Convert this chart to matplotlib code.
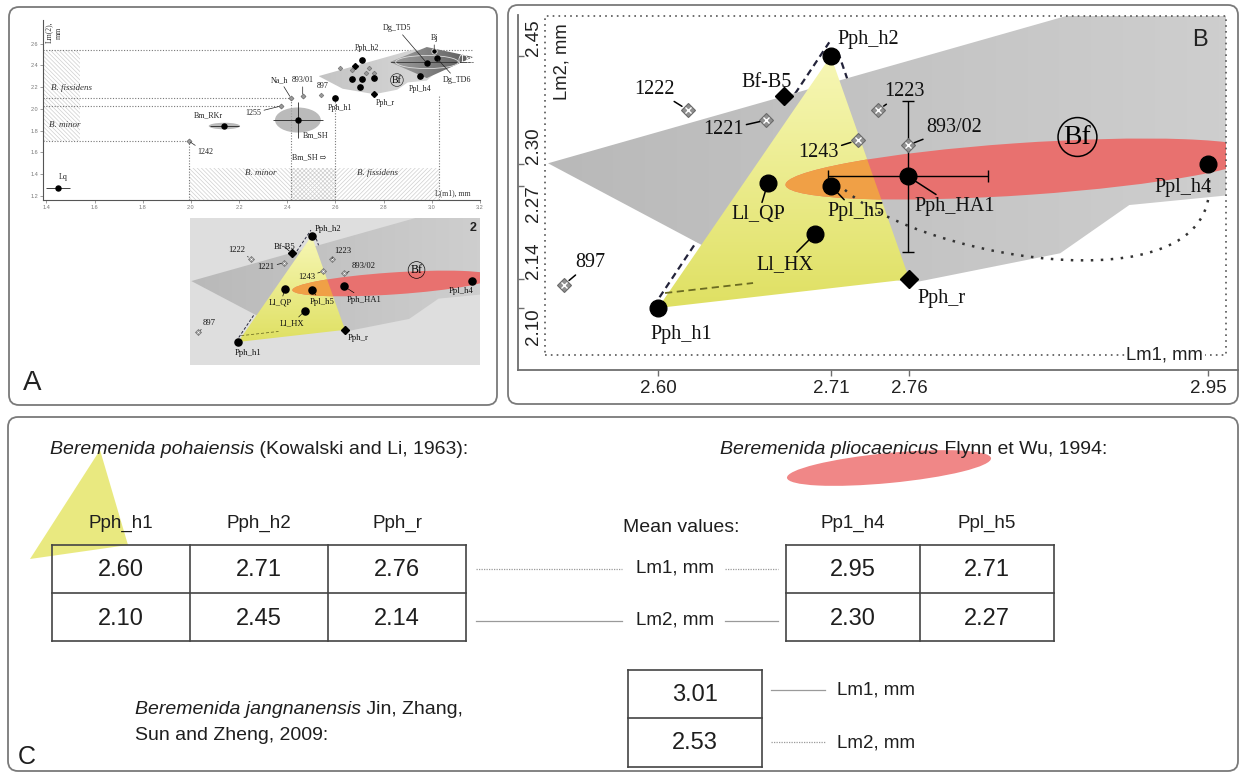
import numpy as np
import matplotlib
matplotlib.use('Agg')
import matplotlib.pyplot as plt
from matplotlib.patches import Polygon, Ellipse, Rectangle, FancyBboxPatch, PathPatch
from matplotlib.path import Path
from matplotlib.colors import to_rgb

W, H = 1241, 775
SERIF = ['Liberation Serif', 'DejaVu Serif']
SANS = ['Liberation Sans', 'DejaVu Sans']
plt.rcParams['font.family'] = SANS
plt.rcParams['hatch.linewidth'] = 0.5

# ------------------------------------------------------------------ data
# Beremenida pohaiensis (triangle vertices), Lm1 / Lm2 in mm
pph_names = ['Pph_h1', 'Pph_h2', 'Pph_r']
pph_lm1 = [2.60, 2.71, 2.76]
pph_lm2 = [2.10, 2.45, 2.14]
pph_markers = ['o', 'o', 'D']

# Beremenida pliocaenicus
ppl_names = ['Ppl_h4', 'Ppl_h5']
ppl_table_headers = ['Pp1_h4', 'Ppl_h5']
ppl_lm1 = [2.95, 2.71]
ppl_lm2 = [2.30, 2.27]

# Beremenida jangnanensis (mean values)
jang_lm1 = [3.01]
jang_lm2 = [2.53]

# other black-dot samples
dot_names = ['Ll_QP', 'Ll_HX', 'Pph_HA1']
dot_lm1 = [2.670, 2.700, 2.759]
dot_lm2 = [2.274, 2.203, 2.283]
ha1_xerr = 0.051
ha1_yerr = 0.105

# Bf-B5 (black diamond)
bfb5_lm1 = [2.680]
bfb5_lm2 = [2.394]

# numbered specimens (grey)
spec_names = ['1222', '1221', '1243', '1223', '893/02', '897']
spec_lm1 = [2.619, 2.669, 2.727, 2.740, 2.759, 2.540]
spec_lm2 = [2.375, 2.361, 2.333, 2.375, 2.326, 2.132]

# B. fissidens (Bf) field outline
bf_lm1 = [2.530, 2.925, 3.100, 2.979, 2.900, 2.856, 2.762, 2.630]
bf_lm2 = [2.301, 2.546, 2.500, 2.260, 2.243, 2.176, 2.135, 2.185]
bf_label_pos = (2.867, 2.3375)

# pliocaenicus range ellipse
ppl_ell_center = (2.832, 2.293)
ppl_ell_width = 0.305
ppl_ell_height = 0.072
ppl_ell_angle = 8.7

# guide lines around the pohaiensis triangle
dash_left_lm1 = [2.601, 2.709]
dash_left_lm2 = [2.115, 2.469]
dash_right_lm1 = [2.7146, 2.7636]
dash_right_lm2 = [2.4556, 2.1436]
dash_base_lm1 = [2.6045, 2.6605]
dash_base_lm2 = [2.1208, 2.1347]
# dotted arc Ppl_h5 -> Ppl_h4 (Bezier control points)
arc_lm1 = [2.719, 2.770, 2.966, 2.950]
arc_lm2 = [2.264, 2.165, 2.095, 2.290]

# panel B axis ticks
b_xticks = [2.60, 2.71, 2.76, 2.95]
b_yticks = [2.10, 2.14, 2.27, 2.30, 2.45]
b_ytick_va = ['top', 'bottom', 'top', 'bottom', 'bottom']

# panel A overview: additional samples
a_names = ['Lq', 'Bm_RKr', '1242', 'Bm_SH', '1255', 'Na_h', '893/01']
a_lm1 = [1.448, 2.139, 1.991, 2.444, 2.374, 2.415, 2.464]
a_lm2 = [1.274, 1.843, 1.705, 1.898, 2.027, 2.100, 2.118]
a_black = ['Lq', 'Bm_RKr', 'Bm_SH']
a_ellipses = {'Bm_SH': (0.19, 0.23), 'Bm_RKr': (0.13, 0.06)}
a_errs = {'Lq': (0.05, 0.02), 'Bm_SH': (0.103, 0.165), 'Bm_RKr': (0.06, 0.0)}
dg_names = ['Dg_TD5', 'Dg_TD6']
dg_lm1 = [2.979, 3.020]
dg_lm2 = [2.421, 2.467]
dg_field_lm1 = [2.826, 2.979, 3.172, 2.979]
dg_field_lm2 = [2.430, 2.568, 2.476, 2.283]
dg_label_pos = (3.143, 2.449)
abf_label_pos = (2.855, 2.265)
a_hguides = [(2.54, 1.386, 3.17), (2.10, 1.386, 2.415), (2.027, 1.386, 2.374), (1.705, 1.386, 1.991)]
a_vguides = [(1.991, 1.164, 1.705), (2.415, 1.164, 2.10), (2.60, 1.164, 2.10), (3.03, 1.164, 2.13)]
a_zones = [(1.386, 1.538, 1.705, 2.54, '\\'), (1.991, 2.415, 1.164, 1.458, '\\'),
           (2.415, 2.60, 1.164, 1.458, 'x'), (2.60, 3.03, 1.164, 1.458, '/')]
a_xticks = [1.4, 1.6, 1.8, 2.0, 2.2, 2.4, 2.6, 2.8, 3.0, 3.2]
a_yticks = [1.2, 1.4, 1.6, 1.8, 2.0, 2.2, 2.4, 2.6]

pos = {}
for names, xs, ys in [(pph_names, pph_lm1, pph_lm2), (ppl_names, ppl_lm1, ppl_lm2),
                      (dot_names, dot_lm1, dot_lm2), (['Bf-B5'], bfb5_lm1, bfb5_lm2),
                      (spec_names, spec_lm1, spec_lm2), (a_names, a_lm1, a_lm2),
                      (dg_names, dg_lm1, dg_lm2), (['Bj'], jang_lm1, jang_lm2)]:
    for n, x, y in zip(names, xs, ys):
        pos[n] = (x, y)

# label offsets (points) for panel B / inset
field_labels = {
    'Pph_h1': (17, -19, False), 'Pph_h2': (27, 12, False), 'Pph_r': (23, -14, False),
    'Bf-B5': (-12, 10, True), '1222': (-24, 15, True), '1221': (-31, -7, True),
    '1243': (-28, -9, True), '1223': (19, 13, True), '893/02': (33, 13, True),
    '897': (19, 16, True), 'Ll_QP': (-7, -23, True), 'Ppl_h5': (18, -19, True),
    'Ll_HX': (-22, -22, True), 'Pph_HA1': (34, -22, True), 'Ppl_h4': (-18, -17, False)}

a_labels = {
    'Lq': (3.6, 7.9, False), 'Bm_RKr': (-11.5, 7.9, False), '1242': (12, -8, True),
    'Bm_SH': (13, -11, False), '1255': (-20, -5, True), 'Na_h': (-8, 13, True),
    '893/01': (0, 11.5, True), '897': (1, 6.5, False), 'Pph_h1': (3.6, -7.2, False),
    'Pph_h2': (3.6, 8.6, False), 'Pph_r': (8, -6.5, False), 'Ppl_h4': (0, -9.4, False),
    'Bj': (0, 9.4, True), 'Dg_TD5': (-21.6, 25.2, True), 'Dg_TD6': (14.4, -15.8, True)}


def gradient_fill(ax, xs, ys, c0, c1, direction, zorder):
    poly = Polygon(np.column_stack([xs, ys]), closed=True, fc='none', ec='none', zorder=zorder)
    ax.add_patch(poly)
    t = np.linspace(0, 1, 256)
    a = np.array(to_rgb(c0)); b = np.array(to_rgb(c1))
    cols = a[None, :] * (1 - t[:, None]) + b[None, :] * t[:, None]
    img = cols[None, :, :] if direction == 'x' else cols[:, None, :]
    ext = (min(xs), max(xs), min(ys), max(ys))
    im = ax.imshow(img, extent=ext, origin='lower', aspect='auto',
                   interpolation='bilinear', zorder=zorder)
    im.set_clip_path(poly)
    return poly


def draw_field(ax, s, detail):
    ax.plot(dash_left_lm1, dash_left_lm2, color='#23233a', lw=1.6 * s, ls=(0, (3, 2)), zorder=1.5)
    ax.plot(dash_right_lm1, dash_right_lm2, color='#23233a', lw=1.6 * s, ls=(0, (3, 2)), zorder=1.5)
    gradient_fill(ax, bf_lm1, bf_lm2, '#b9b9b9', '#d5d5d5', 'x', 2)
    tri = gradient_fill(ax, pph_lm1, pph_lm2, '#dfe062', '#f7f7b6', 'y', 3)
    ell = Ellipse(ppl_ell_center, ppl_ell_width, ppl_ell_height, angle=ppl_ell_angle,
                  fc='#e8716f', ec='none', zorder=4)
    ax.add_patch(ell)
    ell2 = Ellipse(ppl_ell_center, ppl_ell_width, ppl_ell_height, angle=ppl_ell_angle,
                   fc='#f0a046', ec='none', zorder=4.5)
    ax.add_patch(ell2)
    ell2.set_clip_path(tri)
    ax.plot(dash_base_lm1, dash_base_lm2, color='#6b6b22', lw=1.3 * s, ls=(0, (4, 2.5)), zorder=5)
    if detail:
        path = Path(list(zip(arc_lm1, arc_lm2)),
                    [Path.MOVETO, Path.CURVE4, Path.CURVE4, Path.CURVE4])
        ax.add_patch(PathPatch(path, fc='none', ec='#333333', lw=1.8 * s, ls=(0, (1, 3)), zorder=5))
        x, y = pos['Pph_HA1']
        ax.errorbar([x], [y], xerr=[ha1_xerr], yerr=[ha1_yerr], fmt='none', ecolor='k',
                    elinewidth=1.0 * s, capsize=4 * s, capthick=1.0 * s, zorder=5)
    # markers
    for n, m in zip(pph_names, pph_markers):
        x, y = pos[n]
        ax.plot([x], [y], marker=m, ms=(12 if m == 'o' else 9.5) * s, color='k', ls='none', zorder=7)
    ax.plot(ppl_lm1, ppl_lm2, 'o', ms=12 * s, color='k', zorder=7)
    ax.plot(dot_lm1, dot_lm2, 'o', ms=12 * s, color='k', zorder=7)
    ax.plot(bfb5_lm1, bfb5_lm2, 'D', ms=9.5 * s, color='k', zorder=7)
    ax.plot(spec_lm1, spec_lm2, 'D', ms=7.5 * s, mfc='#909090', mec='#6a6a6a', mew=0.8 * s, zorder=7)
    ax.plot(spec_lm1, spec_lm2, 'x', ms=4 * s, mec='white', mew=1.0 * s, zorder=7.2)
    for n, (dx, dy, lead) in field_labels.items():
        x, y = pos[n]
        kw = {}
        if lead:
            kw['arrowprops'] = dict(arrowstyle='-', color='k', lw=1.1 * s, shrinkA=0, shrinkB=5 * s)
        ax.annotate(n, (x, y), xytext=(dx * s, dy * s), textcoords='offset points', ha='center',
                    va='center', fontsize=14.5 * s, family=SERIF, color='#111111', zorder=8, **kw)
    ax.text(*bf_label_pos, 'Bf', fontsize=20 * s, family=SERIF, ha='center', va='center',
            bbox=dict(boxstyle='circle,pad=0.2', fc='none', ec='k', lw=1.1 * s), zorder=8)


fig = plt.figure(figsize=(W / 100, H / 100), dpi=100)
bg = fig.add_axes([0, 0, 1, 1])
bg.set_xlim(0, W); bg.set_ylim(H, 0); bg.axis('off')

# panel frames
for (x0, y0, x1, y1) in [(9, 7, 497, 405), (508, 5, 1238, 404), (8, 417, 1238, 771)]:
    bg.add_patch(FancyBboxPatch((x0, y0), x1 - x0, y1 - y0,
                                boxstyle='round,pad=0,rounding_size=10',
                                fc='none', ec='#7a7a7a', lw=1.3))

# ------------------------------------------------------------------ panel B
axB = fig.add_axes([545 / W, 1 - 355 / H, 681 / W, 339 / H])
axB.set_facecolor('none')
draw_field(axB, 1.0, True)
axB.set_xlim(2.52807, 2.96155)
axB.set_ylim(2.03472, 2.50556)
for sp in ['top', 'right']:
    axB.spines[sp].set_visible(False)
axB.spines['left'].set_position(('outward', 27 * 0.72))
axB.spines['bottom'].set_position(('outward', 15 * 0.72))
axB.spines['left'].set_bounds(2.0139, 2.507)
axB.spines['bottom'].set_bounds(2.5109, 2.969)
for sp in ['left', 'bottom']:
    axB.spines[sp].set_color('#6e6e6e'); axB.spines[sp].set_linewidth(1.3)
axB.set_xticks(b_xticks)
axB.set_xticklabels([f'{v:.2f}' for v in b_xticks])
axB.set_yticks(b_yticks)
axB.tick_params(axis='x', direction='out', length=4, width=1, colors='#6e6e6e',
                labelcolor='#222222', labelsize=13.5, pad=3)
axB.tick_params(axis='y', direction='in', length=4, width=1, colors='#6e6e6e', labelleft=False)
for v, va in zip(b_yticks, b_ytick_va):
    axB.text(-0.0176, v, f'{v:.2f}', transform=axB.get_yaxis_transform(), rotation=90,
             ha='center', va=va, fontsize=13.5, color='#222222')
axB.add_patch(Rectangle((0, 0), 1, 1, transform=axB.transAxes, fill=False, ec='#555555',
                        lw=1.2, ls=(0, (1, 2.5)), clip_on=False, zorder=9))
axB.text(0.025, 0.864, 'Lm2, mm', rotation=90, transform=axB.transAxes, fontsize=13.3,
         ha='center', va='center', color='#222222')
axB.text(0.910, 0.0, 'Lm1, mm', transform=axB.transAxes, fontsize=13.3, ha='center',
         va='center', color='#222222', bbox=dict(fc='white', ec='none', pad=1), zorder=10)
axB.text(0.962, 0.929, 'B', transform=axB.transAxes, fontsize=17, ha='center', va='center',
         color='#222222', zorder=10)

# ------------------------------------------------------------------ panel A (overview)
axA = fig.add_axes([43 / W, 1 - 200 / H, 437 / W, 180 / H])
axA.set_facecolor('none')
for x0, x1, y0, y1, h in a_zones:
    axA.add_patch(Rectangle((x0, y0), x1 - x0, y1 - y0, fill=False, hatch=h * 8,
                            ec='#cfcfcf', lw=0, zorder=1))
for y, x0, x1 in a_hguides:
    axA.plot([x0, x1], [y, y], color='#777777', lw=0.8, ls=(0, (1, 1.5)), zorder=1.5)
for x, y0, y1 in a_vguides:
    axA.plot([x, x], [y0, y1], color='#777777', lw=0.8, ls=(0, (1, 1.5)), zorder=1.5)
gradient_fill(axA, bf_lm1, bf_lm2, '#c4c4c4', '#dcdcdc', 'x', 2)
gradient_fill(axA, dg_field_lm1, dg_field_lm2, '#a0a0a0', '#5a5a5a', 'x', 2.5)
axA.plot([2.83, 3.17], [2.43, 2.43], color='#333333', lw=0.6, zorder=3)
axA.add_patch(Ellipse((2.98, 2.43), 0.26, 0.12, fc='none', ec='#dddddd', lw=0.6, zorder=3))
for n, (w, h) in a_ellipses.items():
    axA.add_patch(Ellipse(pos[n], w, h, fc='#a9a9a9', ec='none', alpha=0.8, zorder=3))
for n, (xe, ye) in a_errs.items():
    x, y = pos[n]
    axA.errorbar([x], [y], xerr=[xe], yerr=[ye] if ye else None, fmt='none', ecolor='#222222',
                 elinewidth=0.6, capsize=0, zorder=4)
axA.plot(spec_lm1, spec_lm2, 'D', ms=2.4, mfc='#9a9a9a', mec='#666666', mew=0.4, zorder=5)
grey_a = [n for n in a_names if n not in a_black]
axA.plot([pos[n][0] for n in grey_a], [pos[n][1] for n in grey_a], 'D', ms=2.6,
         mfc='#9a9a9a', mec='#555555', mew=0.4, zorder=5)
axA.plot([pos[n][0] for n in a_black], [pos[n][1] for n in a_black], 'o', ms=3.6, color='k', zorder=6)
axA.plot(pph_lm1[:2], pph_lm2[:2], 'o', ms=3.8, color='k', zorder=6)
axA.plot(pph_lm1[2:], pph_lm2[2:], 'D', ms=3.0, color='k', zorder=6)
axA.plot(ppl_lm1, ppl_lm2, 'o', ms=3.8, color='k', zorder=6)
axA.plot(dot_lm1, dot_lm2, 'o', ms=3.8, color='k', zorder=6)
axA.plot(bfb5_lm1, bfb5_lm2, 'D', ms=3.0, color='k', zorder=6)
axA.plot(dg_lm1, dg_lm2, 'o', ms=3.6, color='k', zorder=6)
axA.plot(jang_lm1, jang_lm2, 'o', ms=3.8, color='k', mec='white', mew=0.5, zorder=6)
for n, (dx, dy, lead) in a_labels.items():
    kw = {}
    if lead:
        kw['arrowprops'] = dict(arrowstyle='-', color='#222222', lw=0.5, shrinkA=0, shrinkB=1.5)
    axA.annotate(n, pos[n], xytext=(dx, dy), textcoords='offset points', ha='center', va='center',
                 fontsize=5.8, family=SERIF, color='#222222', zorder=8, **kw)
axA.text(*abf_label_pos, 'Bf', fontsize=7, family=SERIF, ha='center', va='center',
         bbox=dict(boxstyle='circle,pad=0.15', fc='none', ec='#333333', lw=0.5), zorder=8)
axA.text(*dg_label_pos, 'Dg', fontsize=7, family=SERIF, ha='center', va='center', color='white',
         bbox=dict(boxstyle='circle,pad=0.15', fc='none', ec='white', lw=0.5), zorder=8)
axA.text(2.489, 1.559, 'Bm_SH \u21e8', fontsize=5.8, family=SERIF + ['DejaVu Sans'],
         ha='center', va='center', color='#222222', zorder=8)
axA.text(1.42, 2.19, 'B. fissidens', fontsize=6.5, family=SERIF, style='italic', ha='left',
         va='center', color='#333333', zorder=8)
axA.text(1.41, 1.85, 'B. minor', fontsize=6.5, family=SERIF, style='italic', ha='left',
         va='center', color='#333333', zorder=8)
axA.text(2.29, 1.412, 'B. minor', fontsize=6.5, family=SERIF, style='italic', ha='center',
         va='center', color='#333333', zorder=8)
axA.text(2.773, 1.412, 'B. fissidens', fontsize=6.5, family=SERIF, style='italic', ha='center',
         va='center', color='#333333', zorder=8)
axA.text(0.938, 0.04, 'L(m1), mm', transform=axA.transAxes, fontsize=5.5, family=SERIF,
         ha='center', va='center', color='#333333')
axA.text(0.025, 0.93, 'Lm(2),\nmm', transform=axA.transAxes, fontsize=5.5, family=SERIF,
         rotation=90, ha='center', va='center', color='#333333')
axA.set_xlim(1.386, 3.184)
axA.set_ylim(1.164, 2.816)
for sp in ['top', 'right']:
    axA.spines[sp].set_visible(False)
for sp in ['left', 'bottom']:
    axA.spines[sp].set_color('#555555'); axA.spines[sp].set_linewidth(0.8)
axA.set_xticks(a_xticks); axA.set_yticks(a_yticks)
axA.tick_params(labelsize=4, colors='#777777', length=2, width=0.5, pad=1.5)

# inset "2" inside panel A
axI = fig.add_axes([190 / W, 1 - 365 / H, 290 / W, 147 / H])
axI.set_facecolor('#dedede')
draw_field(axI, 0.426, False)
axI.set_xlim(2.528, 2.962)
axI.set_ylim(2.024, 2.509)
axI.set_xticks([]); axI.set_yticks([])
for sp in axI.spines.values():
    sp.set_visible(False)
axI.text(0.975, 0.93, '2', transform=axI.transAxes, fontsize=9, fontweight='bold',
         ha='center', va='center', color='#222222')

bg.text(32, 383, 'A', fontsize=20, ha='center', va='center', color='#222222')

# ------------------------------------------------------------------ panel C
TXT = '#1e1e1e'
LINE = '#444444'
THIN = '#9a9a9a'

bg.add_patch(Polygon([(30, 559), (100, 450), (128, 545)], closed=True, fc='#e6e66a',
                     ec='none', alpha=0.85, zorder=0.5))
bg.add_patch(Ellipse((889, 468), 205, 30, angle=-5.5, fc='#ef7a7a', ec='none', alpha=0.9,
                     zorder=0.5))

t1 = bg.text(50, 450, 'Beremenida pohaiensis', style='italic', fontsize=14, ha='left',
             va='center', color=TXT, zorder=2)
bg.annotate(' (Kowalski and Li, 1963):', xy=(1, 0.5), xycoords=t1, ha='left', va='center',
            fontsize=14, color=TXT, zorder=2)
t2 = bg.text(1107, 450, ' Flynn et Wu, 1994:', fontsize=14, ha='right', va='center',
             color=TXT, zorder=2)
bg.annotate('Beremenida pliocaenicus', xy=(0, 0.5), xycoords=t2, ha='right', va='center',
            fontsize=14, style='italic', color=TXT, zorder=2)
t3 = bg.text(135, 710, 'Beremenida jangnanensis', style='italic', fontsize=14, ha='left',
             va='center', color=TXT, zorder=2)
bg.annotate(' Jin, Zhang,', xy=(1, 0.5), xycoords=t3, ha='left', va='center', fontsize=14,
            color=TXT, zorder=2)
bg.text(135, 735, 'Sun and Zheng, 2009:', fontsize=14, ha='left', va='center', color=TXT, zorder=2)


def draw_table(xe, ye):
    for x in xe:
        bg.plot([x, x], [ye[0], ye[-1]], color=LINE, lw=1.2, zorder=1)
    for y in ye:
        bg.plot([xe[0], xe[-1]], [y, y], color=LINE, lw=1.2, zorder=1)


# left table (pohaiensis)
lx = [52, 190, 328, 466]
ty = [545, 593, 641]
draw_table(lx, ty)
for i, n in enumerate(pph_names):
    cx = (lx[i] + lx[i + 1]) / 2
    bg.text(cx, 523, n, fontsize=13.5, ha='center', va='center', color=TXT, zorder=2)
    bg.text(cx, 570, f'{pph_lm1[i]:.2f}', fontsize=17, ha='center', va='center', color=TXT, zorder=2)
    bg.text(cx, 619, f'{pph_lm2[i]:.2f}', fontsize=17, ha='center', va='center', color=TXT, zorder=2)

# right table (pliocaenicus)
rx = [786, 920, 1054]
draw_table(rx, ty)
for i, n in enumerate(ppl_table_headers):
    cx = (rx[i] + rx[i + 1]) / 2
    bg.text(cx, 523, n, fontsize=13.5, ha='center', va='center', color=TXT, zorder=2)
    bg.text(cx, 570, f'{ppl_lm1[i]:.2f}', fontsize=17, ha='center', va='center', color=TXT, zorder=2)
    bg.text(cx, 619, f'{ppl_lm2[i]:.2f}', fontsize=17, ha='center', va='center', color=TXT, zorder=2)

bg.text(681, 527, 'Mean values:', fontsize=14, ha='center', va='center', color=TXT, zorder=2)
bg.text(675, 568, 'Lm1, mm', fontsize=13.5, ha='center', va='center', color=TXT, zorder=2)
bg.text(675, 620, 'Lm2, mm', fontsize=13.5, ha='center', va='center', color=TXT, zorder=2)
for x0, x1 in [(476, 622), (725, 778)]:
    bg.plot([x0, x1], [569, 569], color=THIN, lw=0.9, ls=(0, (1, 1)), zorder=1)
    bg.plot([x0, x1], [621, 621], color=THIN, lw=0.9, zorder=1)

# bottom box (jangnanensis)
bx = [628, 762]
by = [670, 718, 767]
draw_table(bx, by)
bg.text(695, 695, f'{jang_lm1[0]:.2f}', fontsize=17, ha='center', va='center', color=TXT, zorder=2)
bg.text(695, 743, f'{jang_lm2[0]:.2f}', fontsize=17, ha='center', va='center', color=TXT, zorder=2)
bg.plot([771, 825], [690, 690], color=THIN, lw=0.9, zorder=1)
bg.plot([771, 825], [742, 742], color=THIN, lw=0.9, ls=(0, (1, 1)), zorder=1)
bg.text(837, 690, 'Lm1, mm', fontsize=13.5, ha='left', va='center', color=TXT, zorder=2)
bg.text(837, 743, 'Lm2, mm', fontsize=13.5, ha='left', va='center', color=TXT, zorder=2)

bg.text(27, 757, 'C', fontsize=18, ha='center', va='center', color=TXT, zorder=2)

fig.savefig('out.png', dpi=100)
